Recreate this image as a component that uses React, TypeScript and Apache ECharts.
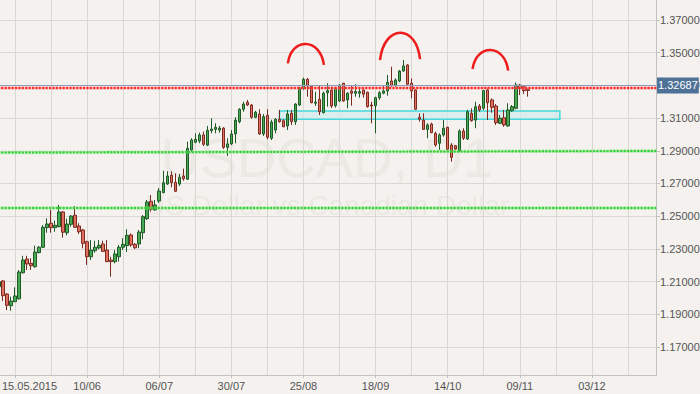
import { useEffect, useRef } from 'react';
import * as echarts from 'echarts';

// ---------- data ----------
const firstDate = [2015, 4, 11]; // Mon 11 May 2015, first trading day shown
const categoryCount = 165; // trading-day slots on the axis (incl. empty future days)
const firstLabelIndex = 4; // 15.05.2015
const labelStep = 18;
const gridStep = 9;

const openPrices = [
  1.2069, 1.2104, 1.2024, 1.1953, 1.1977, 1.1995, 1.2154, 1.2238, 1.2212, 1.2191,
  1.2277, 1.2310, 1.2430, 1.2457, 1.2430, 1.2436, 1.2526, 1.2399, 1.2450, 1.2506,
  1.2440, 1.2416, 1.2344, 1.2252, 1.2289, 1.2306, 1.2330, 1.2293, 1.2232, 1.2222,
  1.2252, 1.2310, 1.2320, 1.2385, 1.2328, 1.2330, 1.2399, 1.2485, 1.2591, 1.2538,
  1.2593, 1.2644, 1.2697, 1.2750, 1.2707, 1.2697, 1.2746, 1.2726, 1.2905, 1.2952,
  1.2960, 1.2997, 1.2935, 1.3023, 1.3031, 1.3027, 1.3039, 1.2921, 1.2942, 1.3003,
  1.3078, 1.3154, 1.3197, 1.3180, 1.3105, 1.3125, 1.3003, 1.3117, 1.2977, 1.3027,
  1.3093, 1.3084, 1.3052, 1.3129, 1.3078, 1.3180, 1.3282, 1.3337, 1.3296, 1.3191,
  1.3215, 1.3133, 1.3255, 1.3272, 1.3176, 1.3205, 1.3313, 1.3211, 1.3266, 1.3252,
  1.3252, 1.3272, 1.3258, 1.3180, 1.3176, 1.3225, 1.3252, 1.3266, 1.3327, 1.3298,
  1.3327, 1.3388, 1.3425, 1.3313, 1.3272, 1.3105, 1.3088, 1.3031, 1.3064, 1.3007,
  1.2946, 1.2997, 1.3044, 1.2935, 1.2931, 1.2901, 1.3021, 1.2972, 1.3129, 1.3088,
  1.3174, 1.3160, 1.3272, 1.3211, 1.3174, 1.3068, 1.3102, 1.3052, 1.3145, 1.3160,
  1.3302, 1.3292, 1.3276,
];
const closePrices = [
  1.2099, 1.2014, 1.1955, 1.1981, 1.2012, 1.2159, 1.2232, 1.2208, 1.2197, 1.2281,
  1.2310, 1.2432, 1.2452, 1.2430, 1.2444, 1.2526, 1.2402, 1.2452, 1.2501, 1.2432,
  1.2405, 1.2334, 1.2252, 1.2293, 1.2310, 1.2322, 1.2285, 1.2222, 1.2222, 1.2269,
  1.2310, 1.2328, 1.2383, 1.2324, 1.2307, 1.2403, 1.2497, 1.2587, 1.2542, 1.2569,
  1.2654, 1.2705, 1.2746, 1.2705, 1.2652, 1.2738, 1.2729, 1.2915, 1.2966, 1.2970,
  1.2997, 1.2940, 1.3025, 1.3033, 1.3044, 1.3039, 1.2921, 1.2942, 1.3003, 1.3088,
  1.3154, 1.3186, 1.3180, 1.3105, 1.3136, 1.3003, 1.3109, 1.2983, 1.3076, 1.3093,
  1.3078, 1.3047, 1.3125, 1.3078, 1.3186, 1.3282, 1.3337, 1.3296, 1.3194, 1.3198,
  1.3139, 1.3252, 1.3268, 1.3174, 1.3282, 1.3302, 1.3205, 1.3252, 1.3252, 1.3262,
  1.3262, 1.3246, 1.3170, 1.3174, 1.3225, 1.3255, 1.3266, 1.3319, 1.3298, 1.3333,
  1.3388, 1.3419, 1.3307, 1.3266, 1.3154, 1.3093, 1.3031, 1.3058, 1.3011, 1.2935,
  1.2997, 1.3038, 1.2909, 1.2860, 1.2911, 1.3021, 1.2977, 1.3139, 1.3084, 1.3170,
  1.3150, 1.3268, 1.3194, 1.3166, 1.3072, 1.3099, 1.3058, 1.3150, 1.3170, 1.3302,
  1.3282, 1.3268, 1.32687,
];
const lowPrices = [
  1.2055, 1.1981, 1.1926, 1.1922, 1.1975, 1.1990, 1.2150, 1.2171, 1.2171, 1.2185,
  1.2273, 1.2306, 1.2399, 1.2399, 1.2405, 1.2432, 1.2369, 1.2383, 1.2436, 1.2428,
  1.2391, 1.2304, 1.2202, 1.2232, 1.2277, 1.2298, 1.2281, 1.2220, 1.2130, 1.2212,
  1.2222, 1.2293, 1.2281, 1.2313, 1.2299, 1.2304, 1.2359, 1.2477, 1.2528, 1.2534,
  1.2581, 1.2640, 1.2691, 1.2677, 1.2650, 1.2685, 1.2717, 1.2721, 1.2895, 1.2946,
  1.2946, 1.2929, 1.2929, 1.3007, 1.3007, 1.3011, 1.2911, 1.2868, 1.2935, 1.2946,
  1.3068, 1.3139, 1.3174, 1.3096, 1.3099, 1.2997, 1.2991, 1.2970, 1.2966, 1.3007,
  1.3072, 1.3044, 1.3027, 1.3058, 1.3058, 1.3174, 1.3272, 1.3231, 1.3191, 1.3174,
  1.3119, 1.3129, 1.3170, 1.3162, 1.3164, 1.3198, 1.3200, 1.3160, 1.3176, 1.3231,
  1.3225, 1.3225, 1.3164, 1.3068, 1.3007, 1.3211, 1.3246, 1.3237, 1.3292, 1.3292,
  1.3319, 1.3384, 1.3298, 1.3221, 1.3150, 1.3078, 1.3027, 1.2977, 1.3007, 1.2925,
  1.2905, 1.2986, 1.2901, 1.2833, 1.2905, 1.2895, 1.2966, 1.2966, 1.3078, 1.3038,
  1.3139, 1.3150, 1.3088, 1.3133, 1.3058, 1.3064, 1.3047, 1.3047, 1.3139, 1.3154,
  1.3241, 1.3247, 1.3231,
];
const highPrices = [
  1.2116, 1.2110, 1.2029, 1.2008, 1.2065, 1.2171, 1.2258, 1.2258, 1.2243, 1.2320,
  1.2318, 1.2446, 1.2487, 1.2538, 1.2473, 1.2569, 1.2532, 1.2485, 1.2506, 1.2562,
  1.2457, 1.2422, 1.2350, 1.2354, 1.2350, 1.2354, 1.2350, 1.2354, 1.2252, 1.2293,
  1.2324, 1.2365, 1.2420, 1.2395, 1.2336, 1.2416, 1.2507, 1.2599, 1.2630, 1.2599,
  1.2672, 1.2778, 1.2775, 1.2775, 1.2762, 1.2758, 1.2791, 1.2956, 1.2977, 1.3007,
  1.3011, 1.3017, 1.3052, 1.3099, 1.3068, 1.3052, 1.3044, 1.2977, 1.3027, 1.3105,
  1.3160, 1.3200, 1.3211, 1.3186, 1.3145, 1.3154, 1.3125, 1.3154, 1.3090, 1.3099,
  1.3150, 1.3093, 1.3150, 1.3150, 1.3191, 1.3292, 1.3348, 1.3345, 1.3302, 1.3261,
  1.3302, 1.3262, 1.3313, 1.3292, 1.3292, 1.3307, 1.3315, 1.3258, 1.3298, 1.3307,
  1.3282, 1.3282, 1.3262, 1.3200, 1.3231, 1.3266, 1.3298, 1.3364, 1.3414, 1.3343,
  1.3394, 1.3455, 1.3429, 1.3343, 1.3278, 1.3129, 1.3129, 1.3068, 1.3072, 1.3017,
  1.3007, 1.3088, 1.3047, 1.2946, 1.2935, 1.3031, 1.3038, 1.3150, 1.3160, 1.3200,
  1.3186, 1.3272, 1.3282, 1.3221, 1.3186, 1.3119, 1.3150, 1.3191, 1.3180, 1.3317,
  1.3309, 1.3298, 1.3280,
];

const yTicks = [1.17, 1.19, 1.21, 1.23, 1.25, 1.27, 1.29, 1.31, 1.33, 1.35, 1.37];
const yMin = 1.15287;
const yMax = 1.38223;
const lastPrice = 1.32687;
const resistanceLevel = 1.32886;
const upperSupport = [1.2889, 1.2899]; // start / end of the slightly sloped line
const lowerSupport = [1.25546, 1.25546];
const zoneIndex = [70, 140];
const zoneValues = [1.31438, 1.3093];
// head & shoulders arcs: [startIdx, startVal, peakIdx, peakVal, endIdx, endVal]
const arcs = [
  [72.1, 1.3435, 76.5, 1.3553, 81.1, 1.3425],
  [95.1, 1.3455, 100.4, 1.3622, 105.1, 1.3460],
  [118.2, 1.3400, 122.75, 1.3517, 127.1, 1.3390],
];
const watermarkTitle = 'USDCAD, D1';
const watermarkSubtitle = 'US Dollar vs Canadian Dollar';

// ---------- helpers ----------
const pad = (n: number) => (n < 10 ? '0' + n : '' + n);
function buildCategories(): string[] {
  const out: string[] = [];
  const d = new Date(Date.UTC(firstDate[0], firstDate[1], firstDate[2]));
  while (out.length < categoryCount) {
    const wd = d.getUTCDay();
    if (wd !== 0 && wd !== 6) {
      const dd = pad(d.getUTCDate());
      const mm = pad(d.getUTCMonth() + 1);
      out.push(out.length === firstLabelIndex ? `${dd}.${mm}.${d.getUTCFullYear()}` : `${dd}/${mm}`);
    }
    d.setUTCDate(d.getUTCDate() + 1);
  }
  return out;
}

const FONT = '"Liberation Sans", Arial, sans-serif';
const LABEL_SIZE = 11;

export default function App() {
  const ref = useRef<HTMLDivElement | null>(null);

  useEffect(() => {
    if (!ref.current) return;
    const chart = echarts.init(ref.current, null, { renderer: 'svg' });
    const categories = buildCategories();
    const candles = openPrices.map((o, i) => [o, closePrices[i], lowPrices[i], highPrices[i]]);
    const labelTick = (i: number) => i >= firstLabelIndex && (i - firstLabelIndex) % labelStep === 0;
    const gridTick = (i: number) => i >= firstLabelIndex && (i - firstLabelIndex) % gridStep === 0;
    const lastIdx = categoryCount - 1;
    const dotted = (color: string) => ({ color, width: 2.4, type: [0.1, 3.3], cap: 'round' });
    const halo = (color: string) => ({ color, width: 3.5, type: 'solid' });
    const levelLine = (vals: number[], style: any) => [
      { coord: [0, vals[0]], lineStyle: style },
      { coord: [lastIdx, vals[1]] },
    ];

    chart.setOption({
      animation: false,
      backgroundColor: '#f4f1ee',
      grid: { left: -1, right: 44, top: 0, bottom: 19, containLabel: false, outerBoundsMode: 'none' },
      graphic: [
        {
          type: 'text', x: 327, y: 158, silent: true, z: 0,
          style: { text: watermarkTitle, fontSize: 55, fontFamily: 'Arial, "Liberation Sans", sans-serif', fill: '#ece9e5', align: 'center', verticalAlign: 'middle' },
        },
        {
          type: 'text', x: 327, y: 205, silent: true, z: 0,
          style: { text: watermarkSubtitle, fontSize: 28, fontFamily: 'Arial, "Liberation Sans", sans-serif', fill: '#ece9e5', align: 'center', verticalAlign: 'middle' },
        },
      ],
      xAxis: {
        type: 'category',
        data: categories,
        boundaryGap: false,
        axisLine: { show: true, lineStyle: { color: '#c2c2c2', width: 1 } },
        axisTick: { show: true, length: 3, interval: labelTick, lineStyle: { color: '#c2c2c2' } },
        axisLabel: {
          interval: labelTick,
          color: '#555',
          fontSize: LABEL_SIZE,
          fontFamily: FONT,
          margin: 5,
          formatter: (v: string, i: number) => (i === firstLabelIndex ? `{first|${v}}` : v),
          rich: { first: { padding: [0, 0, 0, 29], color: '#555', fontSize: LABEL_SIZE, fontFamily: FONT } },
        },
        splitLine: { show: true, interval: gridTick, lineStyle: { color: '#dad8d5', width: 1 } },
      },
      yAxis: {
        type: 'value',
        position: 'right',
        min: yMin,
        max: yMax,
        axisLine: { show: true, lineStyle: { color: '#c2c2c2', width: 1 } },
        axisTick: { show: true, length: 4, customValues: yTicks, lineStyle: { color: '#c2c2c2' } },
        axisLabel: {
          customValues: yTicks,
          color: '#555',
          fontSize: LABEL_SIZE,
          fontFamily: FONT,
          margin: 4,
          formatter: (v: number) => v.toFixed(5),
        },
        splitLine: { show: true, lineStyle: { color: '#dad8d5', width: 1 } },
      },
      series: [
        {
          type: 'candlestick',
          data: candles,
          barWidth: 3,
          itemStyle: {
            color: '#46a852',
            color0: '#e0705f',
            borderColor: '#1f5a27',
            borderColor0: '#7c2a20',
            borderWidth: 1,
          },
          markArea: {
            silent: true,
            itemStyle: { color: 'rgba(206,236,236,0.65)', borderColor: '#46d8dc', borderWidth: 1.5 },
            data: [[
              { coord: [zoneIndex[0], zoneValues[0]] },
              { coord: [zoneIndex[1], zoneValues[1]] },
            ]],
          },
          markLine: {
            silent: true,
            symbol: ['none', 'none'],
            label: { show: false },
            data: [
              levelLine([resistanceLevel, resistanceLevel], halo('rgba(255,140,140,0.35)')),
              levelLine(upperSupport, halo('rgba(120,235,120,0.35)')),
              levelLine(lowerSupport, halo('rgba(120,235,120,0.35)')),
              {
                yAxis: lastPrice,
                lineStyle: { color: '#8d9fb8', width: 1.2, type: 'solid' },
                label: {
                  show: true,
                  position: 'end',
                  distance: 1,
                  formatter: lastPrice.toFixed(5),
                  backgroundColor: '#4e7197',
                  color: '#fff',
                  fontSize: LABEL_SIZE,
                  fontFamily: FONT,
                  padding: [3, 1, 2, 1],
                },
              },
              levelLine([resistanceLevel, resistanceLevel], dotted('#ff2b2b')),
              levelLine(upperSupport, dotted('#35d335')),
              levelLine(lowerSupport, dotted('#35d335')),
            ],
          },
          z: 3,
        },
        {
          type: 'custom',
          silent: true,
          z: 5,
          data: arcs.map((a) => [Math.round(a[2]), a[3]]),
          renderItem: (params: any, api: any) => {
            const a = arcs[params.dataIndex];
            const pt = (i: number, v: number) => {
              const f = Math.floor(i);
              const p = api.coord([f, v]);
              const q = api.coord([f + 1, v]);
              return [p[0] + (q[0] - p[0]) * (i - f), p[1]];
            };
            const p0 = pt(a[0], a[1]);
            const pp = pt(a[2], a[3]);
            const p1 = pt(a[4], a[5]);
            const cy = (pp[1] - 0.125 * (p0[1] + p1[1])) / 0.75;
            const cpx1 = p0[0] + (pp[0] - p0[0]) * 0.2;
            const cpx2 = p1[0] - (p1[0] - pp[0]) * 0.2;
            return {
              type: 'bezierCurve',
              shape: { x1: p0[0], y1: p0[1], x2: p1[0], y2: p1[1], cpx1, cpy1: cy, cpx2, cpy2: cy },
              style: { stroke: '#ee1c1c', lineWidth: 2.5, fill: 'none' },
            };
          },
        },
      ],
    });
    return () => chart.dispose();
  }, []);

  return (
    <div
      ref={ref}
      style={{ position: 'fixed', left: 0, top: 0, width: 700, height: 394, background: '#f4f1ee' }}
    />
  );
}
